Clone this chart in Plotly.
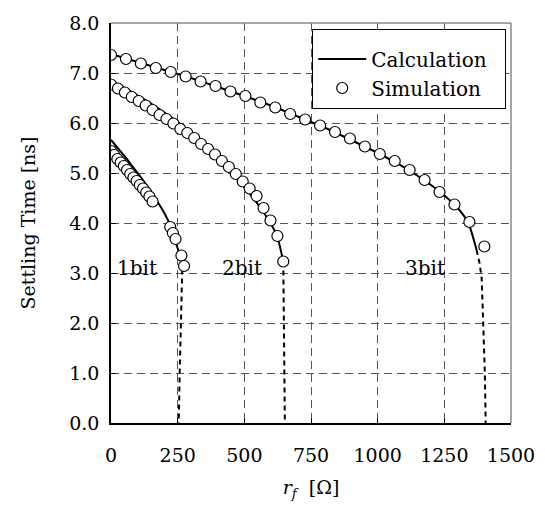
import plotly.graph_objects as go

# simulation points (rf in ohm, settling time in ns)
sim_1bit_rf = [0, 12, 24, 36, 48, 60, 72, 84, 96, 108, 120, 132, 144, 156,
               222, 232, 242, 264, 274]
sim_1bit_t = [5.44, 5.36, 5.28, 5.21, 5.14, 5.06, 4.98, 4.91, 4.84, 4.76, 4.69, 4.61, 4.53, 4.43,
              3.92, 3.80, 3.68, 3.35, 3.14]

sim_2bit_rf = [0, 26, 52, 78, 104, 130, 156, 182, 208, 234, 260, 286, 312,
               338, 364, 390, 416, 442, 468, 494, 520, 546, 572, 598, 624, 646]
sim_2bit_t = [6.77, 6.69, 6.61, 6.52, 6.44, 6.35, 6.26, 6.16, 6.08, 5.99, 5.88, 5.80, 5.70,
              5.58, 5.48, 5.37, 5.24, 5.12, 4.98, 4.83, 4.69, 4.54, 4.30, 4.05, 3.74, 3.23]

sim_3bit_rf = [0, 56, 112, 168, 224, 280, 336, 392, 448, 504, 560, 616, 672,
               728, 784, 840, 896, 952, 1008, 1064, 1120, 1176, 1232, 1288, 1344, 1400]
sim_3bit_t = [7.36, 7.28, 7.19, 7.10, 7.02, 6.93, 6.83, 6.74, 6.63, 6.54, 6.41, 6.31, 6.18,
              6.07, 5.95, 5.82, 5.69, 5.53, 5.38, 5.24, 5.06, 4.86, 4.62, 4.37, 4.02, 3.53]

# calculation curves (solid part + dashed drop)
calc_1bit_rf = [0, 25, 50, 75, 100, 125, 150, 175, 200, 225, 245, 258, 268]
calc_1bit_t = [5.66, 5.50, 5.34, 5.17, 5.00, 4.82, 4.63, 4.42, 4.20, 3.92, 3.57, 3.38, 3.25]
drop_1bit_rf = [268, 262, 258, 254]
drop_1bit_t = [3.25, 2.2, 1.1, 0.0]

calc_2bit_rf = [0, 50, 100, 150, 200, 250, 300, 350, 400, 450, 500, 550, 600, 624, 646]
calc_2bit_t = [6.84, 6.70, 6.55, 6.39, 6.21, 6.02, 5.80, 5.56, 5.30, 5.02, 4.72, 4.38, 3.98, 3.72, 3.23]
drop_2bit_rf = [646, 648, 650, 652]
drop_2bit_t = [3.23, 2.2, 1.1, 0.0]

calc_3bit_rf = [0, 100, 200, 300, 400, 500, 600, 700, 800, 900, 1000, 1100,
                1200, 1250, 1300, 1340, 1371]
calc_3bit_t = [7.38, 7.22, 7.06, 6.90, 6.72, 6.54, 6.35, 6.13, 5.91, 5.66, 5.40, 5.11,
               4.76, 4.55, 4.30, 4.00, 3.46]
drop_3bit_rf = [1371, 1382, 1390, 1397, 1402, 1405]
drop_3bit_t = [3.46, 3.2, 2.9, 2.0, 1.0, 0.0]

labels = ["1bit", "2bit", "3bit"]
label_rf = [98, 490, 1179]
label_t = [3.1, 3.1, 3.1]

FONT = "DejaVu Serif"

fig = go.Figure()

curves = [(calc_1bit_rf, calc_1bit_t, drop_1bit_rf, drop_1bit_t),
          (calc_2bit_rf, calc_2bit_t, drop_2bit_rf, drop_2bit_t),
          (calc_3bit_rf, calc_3bit_t, drop_3bit_rf, drop_3bit_t)]
for i, (cx, cy, dx, dy) in enumerate(curves):
    fig.add_trace(go.Scatter(x=cx, y=cy, mode='lines', name='Calculation\u00a0\u00a0',
                             line=dict(color='black', width=2, shape='spline', smoothing=0.6),
                             showlegend=(i == 0)))
    fig.add_trace(go.Scatter(x=dx, y=dy, mode='lines', showlegend=False,
                             line=dict(color='black', width=2, dash='5px,4px')))

sims = [(sim_1bit_rf, sim_1bit_t), (sim_2bit_rf, sim_2bit_t), (sim_3bit_rf, sim_3bit_t)]
for i, (sx, sy) in enumerate(sims):
    fig.add_trace(go.Scatter(x=sx, y=sy, mode='markers', name='Simulation',
                             marker=dict(symbol='circle', size=11, color='white',
                                         line=dict(color='black', width=1.2)),
                             showlegend=(i == 0)))

for txt, x, y in zip(labels, label_rf, label_t):
    fig.add_annotation(x=x, y=y, text=txt, showarrow=False,
                       font=dict(family=FONT, size=20, color='black'))

# grey frame on top and right
fig.add_shape(type='line', xref='paper', yref='paper', x0=0, x1=1, y0=1, y1=1,
              line=dict(color='#888888', width=1.5))
fig.add_shape(type='line', xref='paper', yref='paper', x0=1, x1=1, y0=0, y1=1,
              line=dict(color='#888888', width=1.5))

fig.update_layout(
    width=550, height=507,
    margin=dict(l=111, r=39, t=16, b=82),
    plot_bgcolor='white', paper_bgcolor='white',
    font=dict(family=FONT, size=19, color='black'),
    legend=dict(x=0.503, y=0.984, xanchor='left', yanchor='top',
                bordercolor='black', borderwidth=1, bgcolor='white',
                font=dict(family=FONT, size=20), itemwidth=48,
                title=dict(text='\u00a0', font=dict(size=7))),
    xaxis=dict(range=[0, 1500], tickvals=[0, 250, 500, 750, 1000, 1250, 1500],
               showline=True, linecolor='black', linewidth=1.5,
               ticks='inside', ticklen=5, tickcolor='black',
               showgrid=True, gridcolor='#555555', gridwidth=1, griddash='8px,5px',
               zeroline=False, ticklabelstandoff=14,
               title=dict(text='<i>r</i><sub><i>f</i></sub>  [Ω]', standoff=16,
                          font=dict(family=FONT, size=19))),
    yaxis=dict(range=[0, 8], tickvals=[0, 1, 2, 3, 4, 5, 6, 7, 8],
               tickformat='.1f',
               showline=True, linecolor='black', linewidth=1.5,
               ticks='inside', ticklen=5, tickcolor='black',
               showgrid=True, gridcolor='#555555', gridwidth=1, griddash='8px,5px',
               zeroline=False, ticklabelstandoff=6,
               title=dict(text='Settling Time [ns]', standoff=29,
                          font=dict(family=FONT, size=19))),
)

fig.write_html("out.html", config={'displayModeBar': False},
               post_script="document.body.style.margin='0';")
